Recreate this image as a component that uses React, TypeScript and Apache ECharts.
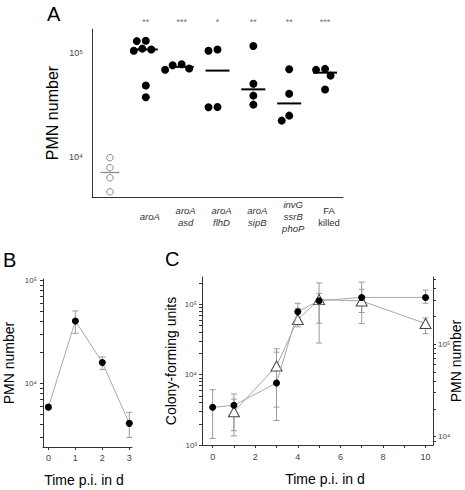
import React, { useEffect, useRef } from 'react';
import * as echarts from 'echarts';

// ---------- Panel A data ----------
const groupLabels = ['', 'aroA', 'aroA\nasd', 'aroA\nflhD', 'aroA\nsipB', 'invG\nssrB\nphoP', 'FA\nkilled'];
const significance = ['', '**', '***', '*', '**', '**', '***'];
const controlPMN = [9800, 7840, 6280, 4600];
const aroA = [130000, 131000, 110000, 108000, 105000, 48500, 37500];
const aroAasd = [77800, 76200, 70700, 69000];
const aroAflhD = [108000, 105000, 30000, 30200];
const aroAsipB = [116800, 50400, 38800, 31800];
const invGssrBphoP = [69700, 40400, 24900, 22300];
const faKilled = [70200, 68700, 60500, 44400];
const aTickValues = [1e4, 1e5];
const aRange = [4100, 170000];

// ---------- Panel B data ----------
const bDays = [0, 1, 2, 3];
const bPMN = [5870, 40500, 15960, 4080];
const bLow = [5600, 30700, 13600, 2980];
const bHigh = [6200, 50800, 18100, 5230];
const bDayTicks = [0, 1, 2, 3];
const bTickValues = [1e4, 1e5];
const bRange = [2400, 104000];
const bDayRange = [-0.2, 3.1];

// ---------- Panel C data ----------
const cfuDays = [0, 1, 3, 4, 5, 7, 10];
const cfu = [3440, 3670, 7630, 79000, 113000, 126000, 126000];
const cfuLow = [1240, 1600, 2230, 64400, 54100, 76900, 104000];
const cfuHigh = [6120, 5320, 23400, 104000, 144000, 208000, 160000];
const pmnDays = [1, 3, 4, 5, 7, 10];
const pmn = [18600, 58000, 184600, 303000, 293000, 167000];
const pmnLow = [10200, 20900, 154000, 103000, 167000, 130000];
const pmnHigh = [25500, 82000, 244000, 458000, 392000, 192000];
const cDayTicks = [0, 2, 4, 6, 8, 10];
const cDayMinorTicks = [0, 1, 2, 3, 4, 5, 6, 7, 8, 9, 10];
const cLeftTickValues = [1e3, 1e4, 1e5];
const cRightTickValues = [1e4, 1e5];
const cLeftRange = [1000, 246000];
const cRightRange = [8140, 532000];
const cDayRange = [-0.5, 10.35];

// ---------- layout ----------
const FONT = "'Liberation Sans', Arial, Helvetica, sans-serif";
const AXIS_COLOR = '#333';
const LABEL_COLOR = '#444';
const ERR_COLOR = '#9a9a9a';
const LINK_COLOR = '#a8a8a8';
const gridA = { left: 92, top: 29, width: 251, height: 168 };
const gridB = { left: 43, top: 279, width: 89, height: 168 };
const gridC = { left: 202, top: 277, width: 231, height: 168 };
const nonGeneLabels = new Set(['FA\nkilled']);

const SUP: Record<string, string> = { '0': '⁰', '1': '¹', '2': '²', '3': '³', '4': '⁴', '5': '⁵', '6': '⁶', '7': '⁷', '8': '⁸', '9': '⁹', '-': '⁻' };
const powLabel = (v: number) => {
  const e = Math.round(Math.log10(v));
  return '10' + String(e).split('').map((c) => SUP[c] || c).join('');
};

const logTicks = (range: number[]) => {
  const out: number[] = [];
  const k0 = Math.floor(Math.log10(range[0]));
  const k1 = Math.ceil(Math.log10(range[1]));
  for (let k = k0; k <= k1; k++) {
    for (let m = 1; m <= 9; m++) {
      const v = m * Math.pow(10, k);
      if (v >= range[0] * 0.999 && v <= range[1] * 1.001) out.push(v);
    }
  }
  return out;
};

const median = (arr: number[]) => {
  const s = [...arr].sort((a, b) => a - b);
  const n = s.length;
  return n % 2 ? s[(n - 1) / 2] : (s[n / 2 - 1] + s[n / 2]) / 2;
};

// beeswarm: horizontal offsets (px) so that dots do not overlap
const swarmOffsets = (values: number[], decadePx: number, diam: number) => {
  const order = values.map((_, i) => i).sort((a, b) => values[b] - values[a]);
  const placed: { x: number; y: number }[] = [];
  const out = new Array(values.length).fill(0);
  for (const i of order) {
    const y = Math.log10(values[i]) * decadePx;
    let chosen = 0;
    for (let k = 0; k < 400; k++) {
      const cand = k === 0 ? 0 : (k % 2 === 1 ? -1 : 1) * Math.ceil(k / 2) * 0.5;
      if (placed.every((p) => Math.hypot(p.x - cand, p.y - y) >= diam)) {
        chosen = cand;
        break;
      }
    }
    placed.push({ x: chosen, y });
    out[i] = chosen;
  }
  return out;
};

const errRender = (capHalf: number) => (params: any, api: any) => {
  const x = api.value(0);
  const p1 = api.coord([x, api.value(1)]);
  const p2 = api.coord([x, api.value(2)]);
  const style = { stroke: ERR_COLOR, lineWidth: 1, fill: 'none' };
  return {
    type: 'group',
    children: [
      { type: 'line', shape: { x1: p1[0], y1: p1[1], x2: p2[0], y2: p2[1] }, style },
      { type: 'line', shape: { x1: p1[0] - capHalf, y1: p1[1], x2: p1[0] + capHalf, y2: p1[1] }, style },
      { type: 'line', shape: { x1: p2[0] - capHalf, y1: p2[1], x2: p2[0] + capHalf, y2: p2[1] }, style },
    ],
  };
};

const tickLabel = (size = 9) => ({ color: LABEL_COLOR, fontSize: size, fontFamily: FONT });
const yLine = { show: true, onZero: false, lineStyle: { color: AXIS_COLOR, width: 1 } };

export default function App() {
  const ref = useRef<HTMLDivElement>(null);
  useEffect(() => {
    if (!ref.current) return;
    const chart = echarts.init(ref.current, undefined, { renderer: 'svg' });

    const aDecadePx = gridA.height / (Math.log10(aRange[1]) - Math.log10(aRange[0]));
    const aBandPx = gridA.width / groupLabels.length;
    const treatedGroups = [aroA, aroAasd, aroAflhD, aroAsipB, invGssrBphoP, faKilled];

    const ctrlOff = swarmOffsets(controlPMN, aDecadePx, 7);
    const controlData = controlPMN.map((v, i) => [0 + ctrlOff[i] / aBandPx, v]);
    const treatedData: number[][] = [];
    treatedGroups.forEach((vals, gi) => {
      const off = swarmOffsets(vals, aDecadePx, 8.6);
      vals.forEach((v, i) => treatedData.push([gi + 1 + off[i] / aBandPx, v]));
    });
    const treatedMedians = treatedGroups.map((vals, gi) => [gi + 1, median(vals)]);

    const option: any = {
      animation: false,
      backgroundColor: '#fff',
      textStyle: { fontFamily: FONT },
      graphic: [
        { type: 'text', left: 47, top: 4, style: { text: 'A', fontSize: 20, fontFamily: FONT, fill: '#000' } },
        { type: 'text', left: 3, top: 250, style: { text: 'B', fontSize: 20, fontFamily: FONT, fill: '#000' } },
        { type: 'text', left: 165, top: 249, style: { text: 'C', fontSize: 20, fontFamily: FONT, fill: '#000' } },
      ],
      grid: [
        { ...gridA, outerBoundsMode: 'none' },
        { ...gridB, outerBoundsMode: 'none' },
        { ...gridC, outerBoundsMode: 'none' },
      ],
      xAxis: [
        {
          type: 'category',
          gridIndex: 0,
          data: groupLabels,
          axisLine: { onZero: false, lineStyle: { color: AXIS_COLOR, width: 1 } },
          axisTick: { show: false },
          splitLine: { show: false },
          axisLabel: {
            interval: 0,
            margin: 19,
            verticalAlign: 'middle',
            padding: [0, 0, 0, 8],
            formatter: (val: string) => {
              if (!val) return '';
              const style = nonGeneLabels.has(val) ? 'n' : 'i';
              return val
                .split('\n')
                .map((l) => `{${style}|${l}}`)
                .join('\n');
            },
            rich: {
              i: { fontStyle: 'italic', fontSize: 9.5, lineHeight: 12, color: '#333', fontFamily: FONT },
              n: { fontSize: 9.5, lineHeight: 12, color: '#333', fontFamily: FONT },
            },
          },
        },
        { type: 'value', gridIndex: 0, min: -0.5, max: groupLabels.length - 0.5, show: false },
        {
          type: 'value',
          gridIndex: 1,
          min: bDayRange[0],
          max: bDayRange[1],
          axisLine: { onZero: false, lineStyle: { color: AXIS_COLOR } },
          axisTick: { customValues: bDayTicks, length: 3, lineStyle: { color: AXIS_COLOR } },
          axisLabel: { customValues: bDayTicks, margin: 6, ...tickLabel(9) },
          splitLine: { show: false },
          name: 'Time p.i. in d',
          nameLocation: 'middle',
          nameGap: 26,
          nameMoveOverlap: false,
          nameTextStyle: { fontSize: 14, color: '#000', fontFamily: FONT, padding: [0, 7, 0, 0] },
        },
        {
          type: 'value',
          gridIndex: 2,
          min: cDayRange[0],
          max: cDayRange[1],
          axisLine: { onZero: false, lineStyle: { color: AXIS_COLOR } },
          axisTick: { customValues: cDayMinorTicks, length: 3, lineStyle: { color: AXIS_COLOR } },
          axisLabel: { customValues: cDayTicks, margin: 7, ...tickLabel(9) },
          splitLine: { show: false },
          name: 'Time p.i. in d',
          nameLocation: 'middle',
          nameGap: 27,
          nameMoveOverlap: false,
          nameTextStyle: { fontSize: 14, color: '#000', fontFamily: FONT, padding: [0, 0, 0, 15] },
        },
      ],
      yAxis: [
        {
          type: 'log',
          gridIndex: 0,
          min: aRange[0],
          max: aRange[1],
          axisLine: yLine,
          axisTick: { show: false },
          splitLine: { show: false },
          axisLabel: { customValues: aTickValues, formatter: (v: number) => powLabel(v), margin: 9, ...tickLabel(9) },
          name: 'PMN number',
          nameLocation: 'middle',
          nameGap: 32,
          nameMoveOverlap: false,
          nameTextStyle: { fontSize: 16, color: '#000', fontFamily: FONT },
        },
        {
          type: 'log',
          gridIndex: 1,
          min: bRange[0],
          max: bRange[1],
          axisLine: yLine,
          axisTick: { customValues: logTicks(bRange), length: 3, lineStyle: { color: AXIS_COLOR } },
          splitLine: { show: false },
          axisLabel: { customValues: bTickValues, formatter: (v: number) => powLabel(v), margin: 6, ...tickLabel(8) },
          name: 'PMN number',
          nameLocation: 'middle',
          nameGap: 27,
          nameMoveOverlap: false,
          nameTextStyle: { fontSize: 14, color: '#000', fontFamily: FONT },
        },
        {
          type: 'log',
          gridIndex: 2,
          min: cLeftRange[0],
          max: cLeftRange[1],
          axisLine: yLine,
          axisTick: { customValues: logTicks(cLeftRange), length: 3, lineStyle: { color: AXIS_COLOR } },
          splitLine: { show: false },
          axisLabel: { customValues: cLeftTickValues, formatter: (v: number) => powLabel(v), margin: 5, ...tickLabel(8) },
          name: 'Colony-forming units',
          nameLocation: 'middle',
          nameGap: 24,
          nameMoveOverlap: false,
          nameTextStyle: { fontSize: 14, color: '#000', fontFamily: FONT },
        },
        {
          type: 'log',
          gridIndex: 2,
          position: 'right',
          min: cRightRange[0],
          max: cRightRange[1],
          axisLine: yLine,
          axisTick: { customValues: logTicks(cRightRange), length: 3, lineStyle: { color: AXIS_COLOR } },
          splitLine: { show: false },
          axisLabel: { customValues: cRightTickValues, formatter: (v: number) => powLabel(v), margin: 5, ...tickLabel(8) },
          name: 'PMN number',
          nameLocation: 'middle',
          nameGap: 16,
          nameMoveOverlap: false,
          nameTextStyle: { fontSize: 14, color: '#000', fontFamily: FONT },
        },
      ],
      series: [
        // ---- Panel A ----
        {
          type: 'scatter',
          xAxisIndex: 1,
          yAxisIndex: 0,
          symbol: 'circle',
          symbolSize: 6.5,
          itemStyle: { color: '#fff', borderColor: '#888', borderWidth: 1, opacity: 1 },
          data: controlData,
          z: 3,
        },
        {
          type: 'scatter',
          xAxisIndex: 1,
          yAxisIndex: 0,
          symbol: 'rect',
          symbolSize: [19, 1.2],
          itemStyle: { color: '#888', opacity: 1 },
          data: [[0, median(controlPMN)]],
          z: 2,
        },
        {
          type: 'scatter',
          xAxisIndex: 1,
          yAxisIndex: 0,
          symbol: 'rect',
          symbolSize: [24, 2],
          itemStyle: { color: '#000', opacity: 1 },
          data: treatedMedians,
          z: 2,
        },
        {
          type: 'scatter',
          xAxisIndex: 1,
          yAxisIndex: 0,
          symbol: 'circle',
          symbolSize: 8,
          itemStyle: { color: '#000', opacity: 1 },
          data: treatedData,
          z: 3,
        },
        {
          type: 'scatter',
          xAxisIndex: 1,
          yAxisIndex: 0,
          symbolSize: 0.1,
          itemStyle: { color: 'rgba(0,0,0,0)' },
          data: significance.map((s, i) => [i, aRange[1]]),
          label: {
            show: true,
            position: 'top',
            distance: 2,
            formatter: (p: any) => significance[p.dataIndex],
            fontSize: 9,
            color: '#444',
            fontFamily: FONT,
          },
          silent: true,
        },
        // ---- Panel B ----
        {
          type: 'custom',
          xAxisIndex: 2,
          yAxisIndex: 1,
          renderItem: errRender(3),
          encode: { x: 0, y: [1, 2] },
          data: bDays.map((d, i) => [d, bLow[i], bHigh[i]]),
          z: 1,
        },
        {
          type: 'line',
          xAxisIndex: 2,
          yAxisIndex: 1,
          symbol: 'circle',
          symbolSize: 7,
          itemStyle: { color: '#000', opacity: 1 },
          lineStyle: { color: LINK_COLOR, width: 1 },
          data: bDays.map((d, i) => [d, bPMN[i]]),
          z: 3,
        },
        // ---- Panel C ----
        {
          type: 'custom',
          xAxisIndex: 3,
          yAxisIndex: 3,
          renderItem: errRender(3),
          encode: { x: 0, y: [1, 2] },
          data: pmnDays.map((d, i) => [d, pmnLow[i], pmnHigh[i]]),
          z: 1,
        },
        {
          type: 'custom',
          xAxisIndex: 3,
          yAxisIndex: 2,
          renderItem: errRender(3),
          encode: { x: 0, y: [1, 2] },
          data: cfuDays.map((d, i) => [d, cfuLow[i], cfuHigh[i]]),
          z: 1,
        },
        {
          type: 'line',
          xAxisIndex: 3,
          yAxisIndex: 3,
          symbol: 'triangle',
          symbolSize: [11, 10],
          itemStyle: { color: '#fff', borderColor: '#444', borderWidth: 1, opacity: 1 },
          lineStyle: { color: LINK_COLOR, width: 1 },
          data: pmnDays.map((d, i) => [d, pmn[i]]),
          z: 3,
        },
        {
          type: 'line',
          xAxisIndex: 3,
          yAxisIndex: 2,
          symbol: 'circle',
          symbolSize: 7,
          itemStyle: { color: '#000', opacity: 1 },
          lineStyle: { color: LINK_COLOR, width: 1 },
          data: cfuDays.map((d, i) => [d, cfu[i]]),
          z: 4,
        },
      ],
    };
    chart.setOption(option);
    return () => chart.dispose();
  }, []);

  return (
    <div
      ref={ref}
      style={{ position: 'absolute', left: 0, top: 0, width: 465, height: 490, background: '#fff' }}
    />
  );
}
